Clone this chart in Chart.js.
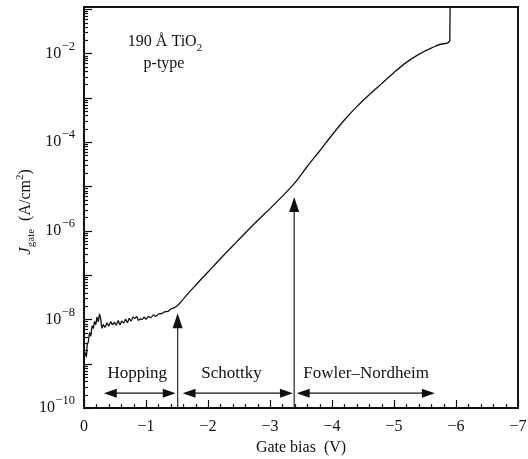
<!DOCTYPE html>
<html>
<head>
<meta charset="utf-8">
<script src="https://cdn.jsdelivr.net/npm/chart.js@4"></script>
<style>
  html, body { margin: 0; padding: 0; background: #fff; }
  #wrap { width: 528px; height: 459px; }
</style>
</head>
<body>
<div id="wrap"><canvas id="jvChart" width="528" height="459"></canvas></div>
<script>
// gate bias (V) and gate current density (A/cm2)
var gateBias = [0, -0.02, -0.04, -0.05, -0.07, -0.09, -0.11, -0.13, -0.15, -0.17,
  -0.19, -0.21, -0.23, -0.25, -0.27, -0.29, -0.31, -0.34, -0.37, -0.40,
  -0.43, -0.46, -0.49, -0.52, -0.55, -0.58, -0.61, -0.64, -0.67, -0.70,
  -0.73, -0.76, -0.79, -0.82, -0.85, -0.88, -0.91, -0.94, -0.97, -1.00,
  -1.04, -1.08, -1.12, -1.16, -1.20, -1.25, -1.30, -1.35, -1.40, -1.45,
  -1.50, -1.56, -1.62, -1.8, -2.0, -2.2, -2.4, -2.6, -2.8, -3.0,
  -3.2, -3.4, -3.6, -3.8, -4.0, -4.2, -4.4, -4.6, -4.8, -5.0,
  -5.2, -5.4, -5.6, -5.8, -5.9, -5.905];
var jGate = [1.26e-9, 1.78e-9, 1.41e-9, 2.51e-9, 3.16e-9, 5.01e-9, 4.17e-9, 7.08e-9, 6.31e-9, 8.91e-9,
  7.59e-9, 1.12e-8, 8.91e-9, 1.32e-8, 1.0e-8, 6.31e-9, 7.59e-9, 6.61e-9, 8.32e-9, 7.08e-9,
  8.91e-9, 7.59e-9, 8.51e-9, 7.41e-9, 9.33e-9, 7.59e-9, 9.12e-9, 8.32e-9, 1.0e-8, 8.51e-9,
  1.05e-8, 9.12e-9, 1.12e-8, 1.05e-8, 1.15e-8, 9.55e-9, 1.02e-8, 1.0e-8, 1.12e-8, 1.02e-8,
  1.15e-8, 1.10e-8, 1.26e-8, 1.17e-8, 1.32e-8, 1.35e-8, 1.48e-8, 1.51e-8, 1.70e-8, 1.82e-8,
  2.0e-8, 2.45e-8, 3.1e-8, 5.89e-8, 1.17e-7, 2.34e-7, 4.57e-7, 8.91e-7, 1.70e-6, 3.16e-6,
  6.03e-6, 1.20e-5, 2.82e-5, 6.31e-5, 1.45e-4, 3.16e-4, 6.31e-4, 1.17e-3, 2.09e-3, 3.72e-3,
  6.31e-3, 9.55e-3, 1.32e-2, 1.66e-2, 1.91e-2, 0.112];

// axis ticks
var xTickValues = [0, -1, -2, -3, -4, -5, -6, -7];
var xTickLabels = ['0', '\u22121', '\u22122', '\u22123', '\u22124', '\u22125', '\u22126', '\u22127'];
var yLabelExponents = [-10, -8, -6, -4, -2];

// conduction regimes (double arrows) and their boundaries (vertical arrows)
var regimeNames = ['Hopping', 'Schottky', 'Fowler\u2013Nordheim'];
var regimeFrom = [-0.32, -1.59, -3.43];
var regimeTo = [-1.48, -3.37, -5.66];
var regimeLabelAt = [-0.86, -2.38, -4.55];
var boundaryBias = [-1.51, -3.39];
var boundaryTip = [1.37e-8, 5.8e-6];

var points = gateBias.map(function (v, i) { return { x: v, y: jGate[i] }; });

var SERIF = '"Liberation Serif", "Times New Roman", serif';

function arrowHead(ctx, x, y, dir, len, half) {
  // dir: 'up', 'left', 'right'
  ctx.beginPath();
  if (dir === 'up') {
    ctx.moveTo(x, y); ctx.lineTo(x - half, y + len); ctx.lineTo(x + half, y + len);
  } else if (dir === 'left') {
    ctx.moveTo(x, y); ctx.lineTo(x + len, y - half); ctx.lineTo(x + len, y + half);
  } else {
    ctx.moveTo(x, y); ctx.lineTo(x - len, y - half); ctx.lineTo(x - len, y + half);
  }
  ctx.closePath();
  ctx.fill();
}

var decorations = {
  id: 'decorations',
  afterDraw: function (chart) {
    var ctx = chart.ctx;
    var area = chart.chartArea;
    var xs = chart.scales.x, ys = chart.scales.y;
    ctx.save();
    ctx.strokeStyle = '#111';
    ctx.fillStyle = '#111';

    // frame
    ctx.lineWidth = 2;
    ctx.strokeRect(area.left, area.top, area.right - area.left, area.bottom - area.top);

    // x ticks, inward
    ctx.lineWidth = 1.2;
    for (var k = 0; k <= 35; k++) {
      var v = -k * 0.2;
      var px = Math.round(xs.getPixelForValue(v)) + 0.5;
      var len = (k % 5 === 0) ? 8 : 4;
      ctx.beginPath();
      ctx.moveTo(px, area.bottom);
      ctx.lineTo(px, area.bottom - len);
      ctx.stroke();
    }
    // y ticks, inward
    for (var e = -10; e <= -1; e++) {
      for (var m = 1; m <= 9; m++) {
        var val = m * Math.pow(10, e);
        if (val > ys.max) continue;
        var py = Math.round(ys.getPixelForValue(val)) + 0.5;
        var l = (m === 1) ? 8 : 4;
        ctx.beginPath();
        ctx.moveTo(area.left, py);
        ctx.lineTo(area.left + l, py);
        ctx.stroke();
      }
    }

    // x tick labels
    ctx.font = '16px ' + SERIF;
    ctx.textAlign = 'center';
    ctx.textBaseline = 'middle';
    xTickValues.forEach(function (v, i) {
      ctx.fillText(xTickLabels[i], xs.getPixelForValue(v), area.bottom + 19);
    });

    // y tick labels 10^n
    yLabelExponents.forEach(function (n) {
      var py = ys.getPixelForValue(Math.pow(10, n));
      var sup = '\u2212' + Math.abs(n);
      ctx.font = '12.5px ' + SERIF;
      var wSup = ctx.measureText(sup).width;
      var right = area.left - 9;
      ctx.textAlign = 'left';
      ctx.fillText(sup, right - wSup, py - 7);
      ctx.font = '16px ' + SERIF;
      ctx.textAlign = 'right';
      ctx.fillText('10', right - wSup - 0.5, py);
    });

    // x axis title
    ctx.font = '16px ' + SERIF;
    ctx.textAlign = 'center';
    ctx.fillText('Gate bias  (V)', 301, 448);

    // y axis title, rotated
    ctx.save();
    ctx.translate(25, 212);
    ctx.rotate(-Math.PI / 2);
    ctx.textAlign = 'left';
    ctx.textBaseline = 'alphabetic';
    var pieces = [
      { t: 'J', f: 'italic 17px ' + SERIF, dy: 0 },
      { t: 'gate', f: '11px ' + SERIF, dy: 4 },
      { t: '  (A/cm', f: '16px ' + SERIF, dy: 0 },
      { t: '2', f: '11px ' + SERIF, dy: -7 },
      { t: ')', f: '16px ' + SERIF, dy: 0 }
    ];
    var total = 0;
    pieces.forEach(function (p) { ctx.font = p.f; total += ctx.measureText(p.t).width; });
    var cx = -total / 2;
    pieces.forEach(function (p) {
      ctx.font = p.f;
      ctx.fillText(p.t, cx, 5 + p.dy);
      cx += ctx.measureText(p.t).width;
    });
    ctx.restore();

    // sample note
    ctx.textAlign = 'left';
    ctx.textBaseline = 'middle';
    ctx.font = '16px ' + SERIF;
    var s1 = '190 \u00C5 TiO';
    var w1 = ctx.measureText(s1).width;
    ctx.font = '11px ' + SERIF;
    var w2 = ctx.measureText('2').width;
    var sx = 165 - (w1 + w2) / 2;
    ctx.font = '16px ' + SERIF;
    ctx.fillText(s1, sx, 42);
    ctx.font = '11px ' + SERIF;
    ctx.fillText('2', sx + w1, 48);
    ctx.font = '16px ' + SERIF;
    ctx.textAlign = 'center';
    ctx.fillText('p-type', 164, 64);

    // boundary arrows
    ctx.lineWidth = 1.3;
    ctx.strokeStyle = '#333';
    ctx.fillStyle = '#111';
    boundaryBias.forEach(function (v, i) {
      var px = xs.getPixelForValue(v);
      var tip = ys.getPixelForValue(boundaryTip[i]);
      ctx.beginPath();
      ctx.moveTo(px, area.bottom);
      ctx.lineTo(px, tip + 10);
      ctx.stroke();
      arrowHead(ctx, px, tip, 'up', 15, 5);
    });

    // regime arrows and names
    var yArrow = ys.getPixelForValue(2.16e-10);
    var yName = ys.getPixelForValue(6.1e-10);
    ctx.strokeStyle = '#111';
    regimeNames.forEach(function (name, i) {
      var a = xs.getPixelForValue(regimeFrom[i]);
      var b = xs.getPixelForValue(regimeTo[i]);
      ctx.beginPath();
      ctx.moveTo(a + 8, yArrow);
      ctx.lineTo(b - 8, yArrow);
      ctx.stroke();
      arrowHead(ctx, a, yArrow, 'left', 13, 4.5);
      arrowHead(ctx, b, yArrow, 'right', 13, 4.5);
      ctx.font = '17px ' + SERIF;
      ctx.textAlign = 'center';
      ctx.textBaseline = 'middle';
      ctx.fillText(name, xs.getPixelForValue(regimeLabelAt[i]), yName);
    });

    ctx.restore();
  }
};

var ctx = document.getElementById('jvChart').getContext('2d');
var jvChart = new Chart(ctx, {
  type: 'line',
  data: {
    datasets: [{
      data: points,
      borderColor: '#111',
      borderWidth: 1.3,
      pointRadius: 0,
      fill: false,
      cubicInterpolationMode: 'monotone'
    }]
  },
  options: {
    responsive: false,
    devicePixelRatio: 1,
    animation: false,
    layout: { padding: { left: 84, right: 10, top: 7, bottom: 51 } },
    plugins: { legend: { display: false }, tooltip: { enabled: false } },
    scales: {
      x: { type: 'linear', min: -7, max: 0, reverse: true, display: false },
      y: { type: 'logarithmic', min: 1e-10, max: 0.112, display: false }
    }
  },
  plugins: [decorations]
});
</script>
</body>
</html>
